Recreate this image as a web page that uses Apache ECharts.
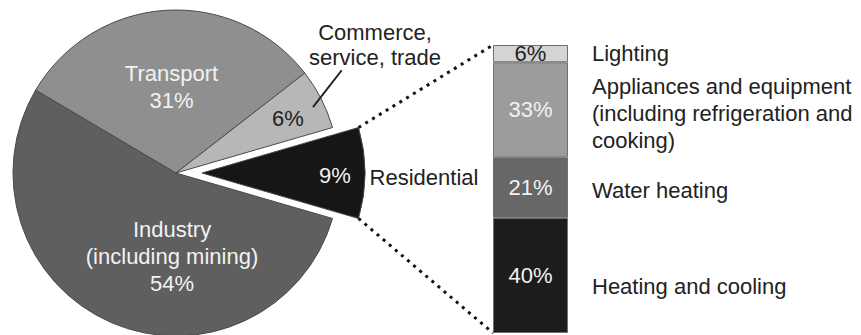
<!DOCTYPE html>
<html><head><meta charset="utf-8">
<script src="https://cdn.jsdelivr.net/npm/echarts@6/dist/echarts.min.js"></script>
<style>html,body{margin:0;padding:0;background:#fff}#c{width:861px;height:335px}</style>
</head><body><div id="c"></div>
<script>
// ---- data ----
const sectorNames = ['Residential', 'Industry', 'Transport', 'Commerce'];
const sectorValues = [9, 54, 31, 6];
const sectorInnerLabels = ['9%', 'Industry\n(including mining)\n54%', 'Transport\n31%', '6%'];
const sectorOuterLabels = ['Residential', '', '', 'Commerce,\nservice, trade'];
const endUseNames = ['Heating and cooling', 'Water heating', 'Appliances and equipment\n(including refrigeration and\ncooking)', 'Lighting'];
const endUseValues = [40, 21, 33, 6];
const endUseLabels = ['40%', '21%', '33%', '6%'];

// ---- styles / layout ----
const FONT = "'Liberation Sans', Arial, sans-serif";
const sectorColors = ['#161616', '#5f5f5f', '#8f8f8f', '#b7b7b7'];
const sectorTextColors = ['#f2f2f2', '#f2f2f2', '#f2f2f2', '#222'];
const endUseColors = ['#1c1c1c', '#676767', '#9c9c9c', '#d4d4d4'];
const endUseTextColors = ['#f2f2f2', '#f2f2f2', '#f2f2f2', '#222'];
const PIE = { cx: 176, cy: 173, r: 163, explode: 26 };
// label anchor positions (pixels) for pie texts
const innerPos = [[335, 175], [172, 256], [171.5, 86.5], [288, 118]];
const outerPos = [[424, 177], null, null, [375, 45]];
const nameShift = [11, 3, 4, 0];
const GRID = { left: 493, top: 45, width: 75, height: 288 };

const total = sectorValues.reduce((a, b) => a + b, 0);
const halfRes = sectorValues[0] / total * 360 / 2;
const startAngle = halfRes; // residential centred on the right

const chart = echarts.init(document.getElementById('c'), null, { renderer: 'svg' });

function overlayPie(labelFn, posArr, color, lineHeight) {
  return {
    type: 'pie', center: [PIE.cx, PIE.cy], radius: PIE.r, startAngle: startAngle, clockwise: true,
    avoidLabelOverlap: false, silent: true, animation: false, z: 3,
    itemStyle: { color: 'rgba(0,0,0,0)', borderWidth: 0 },
    label: {
      show: true, position: 'inside', fontFamily: FONT, fontSize: 22, lineHeight: lineHeight,
      color: p => color, formatter: labelFn
    },
    labelLine: { show: false },
    labelLayout: p => {
      const pos = posArr[p.dataIndex];
      return pos ? { x: pos[0], y: pos[1], align: 'center', verticalAlign: 'middle' } : {};
    },
    data: sectorNames.map((n, i) => ({ name: n, value: sectorValues[i], label: { color: color } }))
  };
}

const series = [
  {
    type: 'pie', center: [PIE.cx, PIE.cy], radius: PIE.r, startAngle: startAngle, clockwise: true,
    selectedMode: 'single', selectedOffset: PIE.explode, avoidLabelOverlap: false, silent: true,
    animation: false,
    itemStyle: { borderColor: '#4a4a4a', borderWidth: 1 },
    label: {
      show: true, position: 'inside', fontFamily: FONT, fontSize: 22, lineHeight: 27,
      formatter: p => p.dataIndex === 0 ? '' : sectorInnerLabels[p.dataIndex]
    },
    labelLine: { show: false },
    labelLayout: p => ({ x: innerPos[p.dataIndex][0], y: innerPos[p.dataIndex][1], align: 'center', verticalAlign: 'middle' }),
    data: sectorNames.map((n, i) => ({
      name: n, value: sectorValues[i], selected: i === 0,
      itemStyle: { color: sectorColors[i] },
      select: { itemStyle: { color: sectorColors[i] } },
      label: { color: sectorTextColors[i] }
    }))
  },
  overlayPie(p => sectorOuterLabels[p.dataIndex], outerPos, '#222', 25),
  overlayPie(p => p.dataIndex === 0 ? sectorInnerLabels[0] : '', [innerPos[0], null, null, null], sectorTextColors[0], 27)
];

endUseValues.forEach((v, i) => {
  series.push({
    type: 'bar', stack: 'use', barWidth: '100%', silent: true, animation: false,
    data: [v],
    itemStyle: { color: endUseColors[i], borderColor: '#707070', borderWidth: 1 },
    label: {
      show: true, position: 'inside', formatter: endUseLabels[i], color: endUseTextColors[i],
      fontFamily: FONT, fontSize: 22
    }
  });
});
endUseValues.forEach((v, i) => {
  series.push({
    type: 'bar', stack: 'names', barWidth: '100%', barGap: '-100%', silent: true, animation: false,
    data: [v],
    itemStyle: { color: 'rgba(0,0,0,0)' },
    label: {
      show: true, position: 'right', distance: 24, formatter: endUseNames[i], color: '#222',
      fontFamily: FONT, fontSize: 22, lineHeight: 27, align: 'left', offset: [0, nameShift[i]]
    }
  });
});

chart.setOption({
  animation: false,
  backgroundColor: '#fff',
  grid: GRID,
  xAxis: { type: 'category', data: ['Residential'], show: false },
  yAxis: { type: 'value', min: 0, max: 100, show: false },
  series: series
});

// connectors derived from the pie geometry and the bar's axis
const rad = Math.PI / 180;
const ox = PIE.cx + PIE.explode; // residential centred at angle 0
const oy = PIE.cy;
const topCorner = [ox + PIE.r * Math.cos(halfRes * rad), oy - PIE.r * Math.sin(halfRes * rad)];
const botCorner = [ox + PIE.r * Math.cos(halfRes * rad), oy + PIE.r * Math.sin(halfRes * rad)];
const barTop = chart.convertToPixel({ gridIndex: 0 }, [0, endUseValues.reduce((a, b) => a + b, 0)]);
const barBot = chart.convertToPixel({ gridIndex: 0 }, [0, 0]);
const barLeft = barTop[0] - GRID.width / 2;
function polar(r, a) { return [PIE.cx + r * Math.cos(a * rad), PIE.cy - r * Math.sin(a * rad)]; }
const leadA = polar(152, 25.7), leadB = polar(195, 31.8);

chart.setOption({
  graphic: [
    { type: 'line', shape: { x1: topCorner[0], y1: topCorner[1], x2: barLeft, y2: barTop[1] },
      style: { stroke: '#111', lineWidth: 3, lineDash: [3, 5] }, z: 10 },
    { type: 'line', shape: { x1: botCorner[0], y1: botCorner[1], x2: barLeft, y2: barBot[1] },
      style: { stroke: '#111', lineWidth: 3, lineDash: [3, 5] }, z: 10 },
    { type: 'line', shape: { x1: leadA[0], y1: leadA[1], x2: leadB[0], y2: leadB[1] },
      style: { stroke: '#222', lineWidth: 2 }, z: 10 }
  ]
});
</script>
</body></html>
